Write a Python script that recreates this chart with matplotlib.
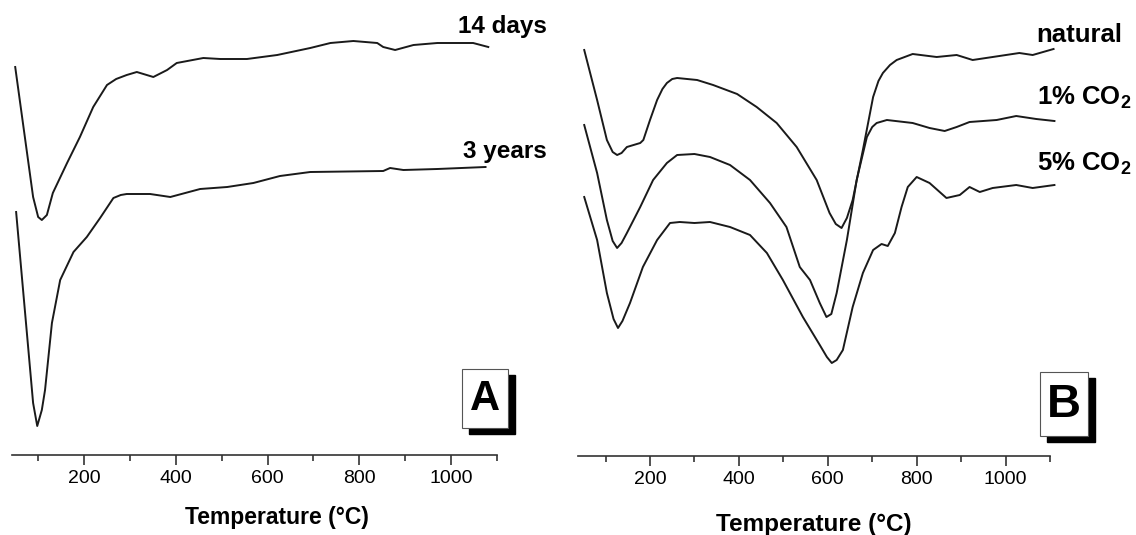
import matplotlib
matplotlib.use("Agg")
import matplotlib.pyplot as plt
from matplotlib.patches import Rectangle
from matplotlib.ticker import MultipleLocator

plt.rcParams['font.family'] = ['Liberation Sans', 'DejaVu Sans']
plt.rcParams['mathtext.fontset'] = 'custom'
plt.rcParams['mathtext.rm'] = 'Liberation Sans:bold'
plt.rcParams['mathtext.default'] = 'rm'

# DTG traces (arbitrary units, curves offset vertically)
t_14d = [50, 89, 100, 108, 119, 132, 163, 191, 220, 250, 270, 293, 315, 351, 381, 402,
         460, 497, 555, 621, 693, 737, 787, 839, 852, 878, 918, 970, 1048, 1081]
y_14d = [388, 258, 238, 235, 240, 262, 292, 318, 348, 370, 376, 380, 383, 378, 385, 392,
         397, 396, 396, 400, 407, 412, 414, 412, 408, 405, 410, 412, 412, 408]

t_3y = [52, 89, 98, 108, 115, 130, 148, 177, 206, 235, 264, 280, 293, 344, 388, 453,
        512, 569, 627, 693, 852, 867, 896, 970, 1075]
y_3y = [243, 52, 29, 45, 65, 132, 175, 203, 218, 237, 257, 260, 261, 261, 258, 266,
        268, 272, 279, 283, 284, 287, 285, 286, 288]

t_nat = [52, 81, 103, 116, 126, 136, 148, 178, 185, 200, 216, 228, 238, 250, 261, 306,
         342, 396, 440, 485, 530, 575, 604, 618, 631, 643, 656, 679, 702, 714, 724, 740,
         755, 791, 845, 890, 926, 971, 1031, 1061, 1108]
y_nat = [406, 356, 316, 304, 301, 303, 309, 313, 316, 336, 356, 367, 373, 377, 378, 376,
         371, 362, 349, 333, 309, 276, 243, 232, 228, 238, 256, 306, 359, 375, 383, 391,
         396, 402, 399, 401, 396, 399, 403, 401, 407]

t_co1 = [52, 81, 103, 116, 126, 136, 148, 178, 207, 238, 261, 300, 335, 380, 425, 470,
         507, 537, 560, 582, 597, 608, 620, 643, 665, 688, 700, 710, 733, 791, 829, 863,
         890, 919, 980, 1024, 1069, 1110]
y_co1 = [331, 283, 236, 215, 208, 213, 223, 249, 276, 293, 301, 302, 299, 291, 276, 253,
         229, 189, 176, 153, 139, 142, 163, 216, 276, 319, 329, 333, 336, 333, 328, 325,
         329, 334, 336, 340, 337, 335]

t_co5 = [52, 81, 103, 118, 128, 138, 155, 184, 216, 245, 267, 300, 335, 380, 425, 463,
         499, 544, 582, 598, 609, 620, 634, 656, 679, 702, 721, 735, 751, 766, 780, 800,
         829, 867, 897, 919, 942, 971, 1024, 1061, 1110]
y_co5 = [259, 216, 163, 137, 128, 135, 153, 189, 216, 233, 234, 233, 234, 229, 221, 203,
         176, 139, 111, 99, 93, 96, 106, 149, 183, 206, 212, 210, 223, 249, 269, 279,
         273, 258, 261, 269, 264, 268, 271, 268, 271]

W, H = 1136, 535
fig = plt.figure(figsize=(W / 100, H / 100), dpi=100)


def px_text(x, y, s, **kw):
    fig.text(x / W, 1 - y / H, s, **kw)


def make_axes(left, right, bottom, xmin):
    ax = fig.add_axes([left / W, 1 - bottom / H, (right - left) / W, bottom / H])
    ax.set_xlim(xmin, 1100)
    ax.set_ylim(0, bottom)
    for s in ['left', 'top', 'right']:
        ax.spines[s].set_visible(False)
    ax.spines['bottom'].set_linewidth(1.2)
    ax.spines['bottom'].set_color('#333333')
    ax.set_yticks([])
    ax.xaxis.set_major_locator(MultipleLocator(200))
    ax.xaxis.set_minor_locator(MultipleLocator(100))
    ax.tick_params(axis='x', which='major', length=7, width=1.2, color='#333333',
                   labelsize=14, pad=4)
    ax.tick_params(axis='x', which='minor', length=4, width=1.2, color='#333333')
    ax.patch.set_alpha(0)
    return ax


def label_box(x0, y0, x1, y1, letter, size):
    fig.add_artist(Rectangle(((x0 + 7) / W, 1 - (y1 + 6) / H), (x1 - x0) / W, (y1 - y0) / H,
                             transform=fig.transFigure, facecolor='black', edgecolor='black'))
    fig.add_artist(Rectangle((x0 / W, 1 - y1 / H), (x1 - x0) / W, (y1 - y0) / H,
                             transform=fig.transFigure, facecolor='white',
                             edgecolor='#555555', linewidth=0.8))
    px_text((x0 + x1) / 2, (y0 + y1) / 2 + 1, letter, fontsize=size, fontweight='bold',
            ha='center', va='center')


line_kw = dict(color='#1a1a1a', lw=1.4, clip_on=False)

# panel A
axA = make_axes(12, 497, 455, 43)
axA.plot(t_14d, y_14d, **line_kw)
axA.plot(t_3y, y_3y, **line_kw)
px_text(547, 27, '14 days', fontsize=17.5, fontweight='bold', ha='right', va='center')
px_text(547, 151, '3 years', fontsize=17.5, fontweight='bold', ha='right', va='center')
px_text(277, 524, 'Temperature (°C)', fontsize=16.5, fontweight='bold', ha='center', va='baseline')
label_box(462, 369, 508, 428, 'A', 30)

# panel B
axB = make_axes(578, 1050, 456, 38)
axB.plot(t_nat, y_nat, **line_kw)
axB.plot(t_co1, y_co1, **line_kw)
axB.plot(t_co5, y_co5, **line_kw)
px_text(1036, 35, 'natural', fontsize=18.5, fontweight='bold', ha='left', va='center')
px_text(1037, 98, '1% CO$_2$', fontsize=18.5, fontweight='bold', ha='left', va='center')
px_text(1037, 164, '5% CO$_2$', fontsize=18.5, fontweight='bold', ha='left', va='center')
px_text(814, 531, 'Temperature (°C)', fontsize=17.5, fontweight='bold', ha='center', va='baseline')
label_box(1040, 372, 1088, 436, 'B', 34)

fig.savefig('out.png', dpi=100)
